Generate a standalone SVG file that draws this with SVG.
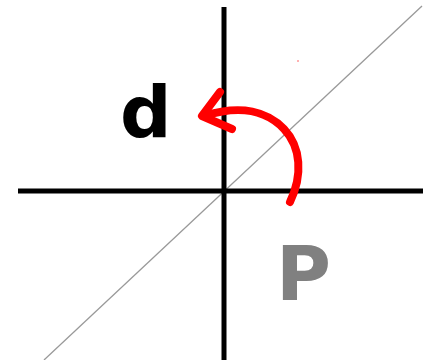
<svg xmlns="http://www.w3.org/2000/svg" width="423" height="360" viewBox="0 0 423 360">
<style>
.axis{stroke:#000;stroke-width:5;fill:none}
.diag{stroke:#999;stroke-width:1.3;fill:none}
.arrow{stroke:#f00;stroke-width:8;fill:none;stroke-linecap:round;stroke-linejoin:round}
.lbl{font-family:"DejaVu Sans",sans-serif;font-weight:bold}
</style>
<rect width="423" height="360" fill="#fff"/>
<g id="connectors">
<line class="diag" x1="44" y1="360" x2="422" y2="6"/>
<line class="axis" x1="224" y1="7" x2="224" y2="360"/>
<line class="axis" x1="18" y1="191" x2="423" y2="191"/>
<path class="arrow" d="M290,202 C303,175 301,147 284,129 C268,112 242,104 204,116"/>
<polyline class="arrow" points="220,92 202,116 232,129"/>
<circle cx="298" cy="61" r="1" fill="#f99"/>
</g>
<g id="d"><text class="lbl" x="120" y="137" font-size="72" fill="#000">d</text></g>
<g id="P"><text class="lbl" x="276" y="300" font-size="75" fill="#808080">P</text></g>
</svg>
